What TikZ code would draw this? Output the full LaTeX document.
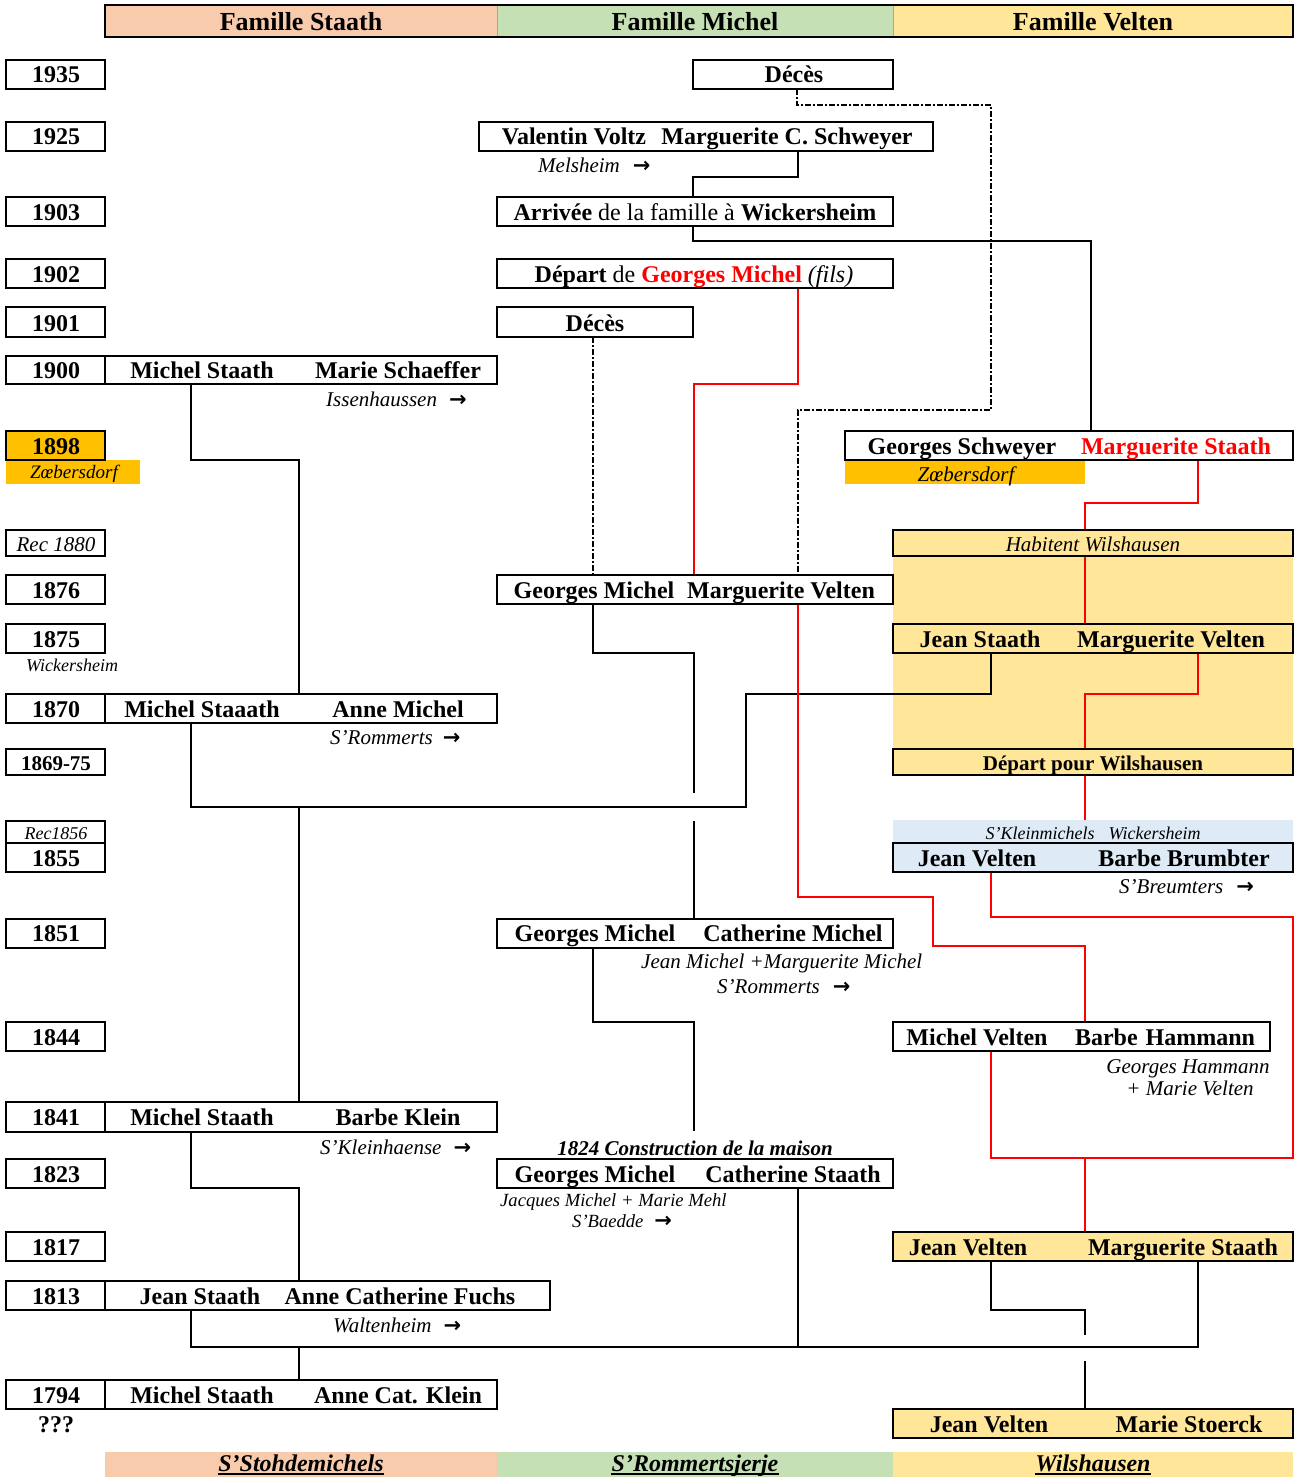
\documentclass[tikz,border=0pt]{standalone}
\usepackage{fontspec}
\setmainfont{Liberation Serif}
\newfontfamily\symf{DejaVu Sans}
\definecolor{peach}{HTML}{F8CBAD}
\definecolor{lgreen}{HTML}{C5E0B4}
\definecolor{lyellow}{HTML}{FFE699}
\definecolor{orng}{HTML}{FFC000}
\definecolor{lblue}{HTML}{DEEBF7}
\definecolor{rd}{HTML}{FF0000}
\pgfdeclarelayer{bgzero}
\pgfdeclarelayer{bgone}
\pgfsetlayers{bgzero,bgone,main}
\newcommand{\myarr}{{\upshape\symf\bfseries\fontsize{21}{22}\selectfont →}}
\newcommand{\mkbox}[6]{\node[bx,minimum width=#4pt,minimum height=#5pt,#6] (#1) at (#2,#3) {};}
\newcommand{\mktext}[5]{\node[#1] (#2) at (#3,#4) {#5};}
\tikzset{
  bx/.style={draw,line width=2pt,inner sep=0pt,outer sep=0pt,anchor=north west,fill=white},
  nm/.style={font=\fontsize{24}{26}\selectfont\bfseries,anchor=base,inner sep=0pt},
  nm21/.style={font=\fontsize{21}{23}\selectfont\bfseries,anchor=base,inner sep=0pt},
  hd/.style={font=\fontsize{26}{28}\selectfont\bfseries,anchor=base,inner sep=0pt},
  ft/.style={font=\fontsize{24}{26}\selectfont\bfseries\itshape,anchor=base,inner sep=0pt},
  bi/.style={font=\fontsize{21}{23}\selectfont\bfseries\itshape,anchor=base,inner sep=0pt},
  pl/.style={font=\fontsize{21}{23}\selectfont\itshape,anchor=base,inner sep=0pt},
  plw/.style={pl,anchor=base west},
  sm/.style={font=\fontsize{18}{20}\selectfont\itshape,anchor=base,inner sep=0pt},
  smw/.style={sm,anchor=base west},
  sm19/.style={font=\fontsize{18.6}{20}\selectfont\itshape,anchor=base,inner sep=0pt},
  sm19w/.style={sm19,anchor=base west},
  rm/.style={font=\fontsize{24}{26}\selectfont,anchor=base,inner sep=0pt},
  ln/.style={line width=1.6pt},
  rl/.style={line width=1.6pt,draw=rd},
  dd/.style={line width=1.6pt,dash pattern=on 6pt off 2pt on 2pt off 2pt},
  ul/.style={line width=1.4pt},
}
\begin{document}
\begin{tikzpicture}[x=1pt,y=-1pt]
\useasboundingbox (0,0) rectangle (1298,1477);

% ---------- background fills
\begin{pgfonlayer}{bgzero}
\mkbox{yelarea}{893}{530}{400}{245}{draw=none,fill=lyellow}
\mkbox{zoebL}{6}{460}{134}{24}{draw=none,fill=orng}
\mkbox{zoebR}{845}{460}{240}{24}{draw=none,fill=orng}
\mkbox{vKl}{893}{820}{400}{23}{draw=none,fill=lblue}
\end{pgfonlayer}

% ---------- header
\mkbox{hS}{105}{5}{392}{32}{draw=none,fill=peach}
\mkbox{hM}{497}{5}{396}{32}{draw=none,fill=lgreen}
\mkbox{hV}{893}{5}{400}{32}{draw=none,fill=lyellow}
\draw[gray!70,line width=1pt] (hS.north east) -- (hS.south east) (hM.north east) -- (hM.south east);
\draw[line width=2pt] (hS.north west) rectangle (hV.south east);
\mktext{hd}{thS}{301}{31}{Famille Staath}
\mktext{hd}{thM}{695}{31}{Famille Michel}
\mktext{hd}{thV}{1093}{31}{Famille Velten}

% ---------- footer
\mkbox{fS}{105}{1452}{392}{25}{draw=none,fill=peach}
\mkbox{fM}{497}{1452}{396}{25}{draw=none,fill=lgreen}
\mkbox{fV}{893}{1452}{400}{25}{draw=none,fill=lyellow}
\mktext{ft}{tfS}{301}{1471}{S’Stohdemichels}
\mktext{ft}{tfM}{695}{1471}{S’Rommertsjerje}
\mktext{ft}{tfV}{1093}{1471}{Wilshausen}
\foreach \u in {tfS,tfM,tfV}
  \draw[ul] ([yshift=-3pt]\u.base west) -- ([yshift=-3pt]\u.base east);

% ---------- year boxes
\mkbox{y1935}{6}{60}{99}{29}{}
\mkbox{y1925}{6}{122}{99}{29}{}
\mkbox{y1903}{6}{197}{99}{29}{}
\mkbox{y1902}{6}{259}{99}{29}{}
\mkbox{y1901}{6}{307}{99}{30}{}
\mkbox{y1900}{6}{356}{99}{28}{}
\mkbox{y1898}{6}{431}{99}{29}{fill=orng}
\mkbox{yr1880}{6}{530}{99}{26}{}
\mkbox{y1876}{6}{575}{99}{29}{}
\mkbox{y1875}{6}{624}{99}{29}{}
\mkbox{y1870}{6}{694}{99}{29}{}
\mkbox{y1869}{6}{749}{99}{26}{}
\mkbox{yr1856}{6}{821}{99}{22}{}
\mkbox{y1855}{6}{843}{99}{29}{}
\mkbox{y1851}{6}{919}{99}{29}{}
\mkbox{y1844}{6}{1022}{99}{29}{}
\mkbox{y1841}{6}{1102}{99}{30}{}
\mkbox{y1823}{6}{1159}{99}{29}{}
\mkbox{y1817}{6}{1232}{99}{29}{}
\mkbox{y1813}{6}{1281}{99}{29}{}
\mkbox{y1794}{6}{1380}{99}{29}{}

% ---------- Staath boxes
\mkbox{s1900}{105}{356}{392}{28}{}
\mkbox{s1870}{105}{694}{392}{29}{}
\mkbox{s1841}{105}{1102}{392}{30}{}
\mkbox{s1813}{105}{1281}{445}{29}{}
\mkbox{s1794}{105}{1380}{392}{29}{}

% ---------- Michel boxes
\mkbox{mD35}{693}{60}{200}{29}{}
\mkbox{m1925}{479}{122}{454}{29}{}
\mkbox{m1903}{497}{197}{396}{29}{}
\mkbox{m1902}{497}{259}{396}{29}{}
\mkbox{mD01}{497}{307}{196}{30}{}
\mkbox{m1876}{497}{575}{396}{29}{}
\mkbox{m1851}{497}{919}{396}{29}{}
\mkbox{m1823}{497}{1159}{396}{29}{}

% ---------- Velten boxes
\mkbox{v1898}{845}{431}{448}{29}{}
\mkbox{vHab}{893}{530}{400}{26}{fill=lyellow}
\mkbox{v1875}{893}{624}{400}{29}{fill=lyellow}
\mkbox{vDep}{893}{749}{400}{26}{fill=lyellow}
\mkbox{v1855}{893}{843}{400}{29}{fill=lblue}
\mkbox{v1844}{893}{1022}{377}{29}{}
\mkbox{v1817}{893}{1232}{400}{29}{fill=lyellow}
\mkbox{v1794}{893}{1409}{400}{29}{fill=lyellow}

% ---------- year texts
\mktext{nm}{t1935}{56}{83}{1935}
\mktext{nm}{t1925}{56}{145}{1925}
\mktext{nm}{t1903}{56}{220}{1903}
\mktext{nm}{t1902}{56}{282}{1902}
\mktext{nm}{t1901}{56}{331}{1901}
\mktext{nm}{t1900}{56}{378}{1900}
\mktext{nm}{t1898}{56}{454}{1898}
\mktext{pl}{tr1880}{56}{551}{Rec 1880}
\mktext{nm}{t1876}{56}{598}{1876}
\mktext{nm}{t1875}{56}{647}{1875}
\mktext{nm}{t1870}{56}{717}{1870}
\mktext{nm21}{t1869}{56}{770}{1869-75}
\mktext{sm}{tr1856}{56}{839}{Rec1856}
\mktext{nm}{t1855}{56}{866}{1855}
\mktext{nm}{t1851}{56}{941}{1851}
\mktext{nm}{t1844}{56}{1045}{1844}
\mktext{nm}{t1841}{56}{1125}{1841}
\mktext{nm}{t1823}{56}{1182}{1823}
\mktext{nm}{t1817}{56}{1255}{1817}
\mktext{nm}{t1813}{56}{1304}{1813}
\mktext{nm}{t1794}{56}{1403}{1794}
\mktext{nm}{tq}{56}{1432}{???}
\mktext{pl}{tzoebL}{74}{478}{\fontsize{19}{20}\selectfont Zœbersdorf}
\mktext{smw}{twickL}{26}{671}{Wickersheim}

% ---------- Staath texts
\mktext{nm}{a1900}{202}{378}{Michel Staath}
\mktext{nm}{b1900}{398}{378}{Marie Schaeffer}
\mktext{plw}{p1900}{326}{406}{Issenhaussen\hspace{12pt}\myarr}
\mktext{nm}{a1870}{202}{717}{Michel Staaath}
\mktext{nm}{b1870}{398}{717}{Anne Michel}
\mktext{plw}{p1870}{330}{744}{S’Rommerts\hspace{10pt}\myarr}
\mktext{nm}{a1841}{202}{1125}{Michel Staath}
\mktext{nm}{b1841}{398}{1125}{Barbe Klein}
\mktext{plw}{p1841}{320}{1154}{S’Kleinhaense\hspace{12pt}\myarr}
\mktext{nm}{a1813}{200}{1304}{Jean Staath}
\mktext{nm}{b1813}{400}{1304}{Anne Catherine Fuchs}
\mktext{plw}{p1813}{333}{1332}{Waltenheim\hspace{12pt}\myarr}
\mktext{nm}{a1794}{202}{1403}{Michel Staath}
\mktext{nm}{b1794}{398}{1403}{Anne Cat. Klein}

% ---------- Michel texts
\mktext{nm}{tD35}{794}{83}{Décès}
\mktext{nm}{a1925}{574}{145}{Valentin Voltz}
\mktext{nm}{b1925}{787}{145}{Marguerite C. Schweyer}
\mktext{plw}{p1925}{538}{172}{Melsheim\hspace{13pt}\myarr}
\mktext{rm}{t1903t}{695}{220}{\textbf{Arrivée} de la famille à \textbf{Wickersheim}}
\mktext{rm}{t1902t}{694}{282}{\textbf{Départ} de \textcolor{rd}{\textbf{Georges Michel}} \textit{(fils)}}
\mktext{nm}{tD01}{595}{331}{Décès}
\mktext{nm}{a1876}{594}{598}{Georges Michel}
\mktext{nm}{b1876}{781}{598}{Marguerite Velten}
\mktext{nm}{a1851}{595}{941}{Georges Michel}
\mktext{nm}{b1851}{793}{941}{Catherine Michel}
\mktext{plw}{q1851}{641}{968}{Jean Michel +Marguerite Michel}
\mktext{plw}{p1851}{717}{993}{S’Rommerts\hspace{13pt}\myarr}
\mktext{bi}{c1824}{695}{1155}{1824 Construction de la maison}
\mktext{nm}{a1823}{595}{1182}{Georges Michel}
\mktext{nm}{b1823}{793}{1182}{Catherine Staath}
\mktext{sm19w}{q1823}{500}{1206}{Jacques Michel + Marie Mehl}
\mktext{sm19w}{p1823}{572}{1227}{S’Baedde\hspace{11pt}{\fontsize{19}{20}\selectfont\myarr}}

% ---------- Velten texts
\mktext{nm}{a1898}{962}{454}{Georges Schweyer}
\mktext{nm}{b1898}{1176}{454}{\textcolor{rd}{Marguerite Staath}}
\mktext{pl}{tzoebR}{966}{481}{Zœbersdorf}
\mktext{pl}{tHab}{1093}{551}{Habitent Wilshausen}
\mktext{nm}{a1875}{980}{647}{Jean Staath}
\mktext{nm}{b1875}{1171}{647}{Marguerite Velten}
\mktext{nm21}{tDep}{1093}{770}{Départ pour Wilshausen}
\mktext{sm}{tKl}{1093}{839}{S’Kleinmichels\hspace{14pt}Wickersheim}
\mktext{nm}{a1855}{977}{866}{Jean Velten}
\mktext{nm}{b1855}{1184}{866}{Barbe Brumbter}
\mktext{plw}{p1855}{1119}{893}{S’Breumters\hspace{13pt}\myarr}
\mktext{nm}{a1844}{977}{1045}{Michel Velten}
\mktext{nm}{b1844}{1165}{1045}{Barbe\hspace{8pt}Hammann}
\mktext{pl}{q1844a}{1188}{1073}{Georges Hammann}
\mktext{pl}{q1844b}{1190}{1095}{+ Marie Velten}
\mktext{nm}{a1817}{968}{1255}{Jean Velten}
\mktext{nm}{b1817}{1183}{1255}{Marguerite Staath}
\mktext{nm}{a1794v}{989}{1432}{Jean Velten}
\mktext{nm}{b1794v}{1189}{1432}{Marie Stoerck}

% ---------- connectors (under the boxes)
\begin{pgfonlayer}{bgone}
\coordinate (c24top) at (694,1131);
% Staath column
\draw[ln] ([xshift=86pt]s1900.south west) |- (299,460) -- ([xshift=194pt]s1870.north west);
\draw[ln] ([xshift=86pt]s1870.south west) |- (746,807) |- (991,694) -- ([xshift=98pt]v1875.south west);
\draw[ln] (299,807) -- ([xshift=194pt]s1841.north west);
\draw[ln] ([xshift=86pt]s1841.south west) |- (299,1188) -- ([xshift=194pt]s1813.north west);
\draw[ln] ([xshift=86pt]s1813.south west) |- (1198,1347) -- ([xshift=305pt]v1817.south west);
\draw[ln] ([xshift=301pt]m1823.south west) -- (798,1347);
\draw[ln] (299,1347) -- ([xshift=194pt]s1794.north west);
% Michel column
\draw[dd] ([xshift=104pt]mD35.south west) |- (991,105) |- (798,410) -- ([xshift=301pt]m1876.north west);
\draw[ln] ([xshift=319pt]m1925.south west) |- (693,177) -- ([xshift=196pt]m1903.north west);
\draw[ln] ([xshift=196pt]m1903.south west) |- (1091,241) -- ([xshift=246pt]v1898.north west);
\draw[rl] ([xshift=301pt]m1902.south west) |- (694,384) -- ([xshift=197pt]m1876.north west);
\draw[dd] ([xshift=96pt]mD01.south west) -- ([xshift=96pt]m1876.north west);
\draw[ln] ([xshift=96pt]m1876.south west) |- (694,653) -- (694,793);
\draw[ln] (694,821) -- ([xshift=197pt]m1851.north west);
\draw[ln] ([xshift=96pt]m1851.south west) |- (694,1022) -- (c24top);
\draw[rl] ([xshift=301pt]m1876.south west) |- (933,897) |- (1085,946) -- ([xshift=192pt]v1844.north west);
% Velten column
\draw[rl] ([xshift=98pt]v1855.south west) |- (1293,917) |- (991,1158) -- ([xshift=98pt]v1844.south west);
\draw[rl] (1085,1158) -- ([xshift=192pt]v1817.north west);
\draw[rl] ([xshift=353pt]v1898.south west) |- (1085,503) -- ([xshift=192pt]vHab.north west);
\draw[rl] ([xshift=192pt]vHab.south west) -- ([xshift=192pt]v1875.north west);
\draw[rl] ([xshift=305pt]v1875.south west) |- (1085,694) -- ([xshift=192pt]vDep.north west);
\draw[rl] ([xshift=192pt]vDep.south west) -- ([xshift=192pt]vKl.north west);
\draw[ln] ([xshift=98pt]v1817.south west) |- (1085,1310) -- (1085,1335);
\draw[ln] (1085,1361) -- ([xshift=192pt]v1794.north west);
\end{pgfonlayer}
\end{tikzpicture}
\end{document}
